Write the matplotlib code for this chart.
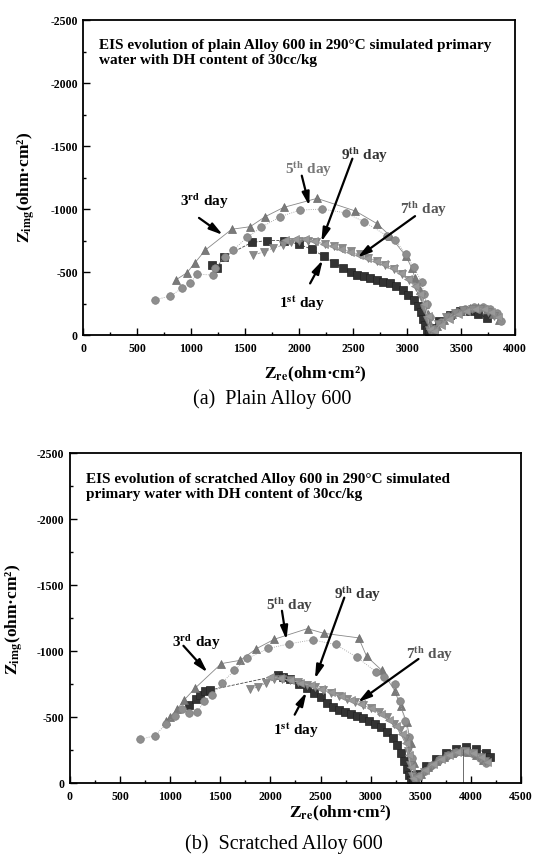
import numpy as np
import matplotlib.pyplot as plt
from matplotlib.ticker import MultipleLocator

plt.rcParams['font.family'] = ['Liberation Serif', 'DejaVu Serif']
plt.rcParams['mathtext.fontset'] = 'stix'
plt.rcParams['axes.unicode_minus'] = False

# ---------------- (a) plain Alloy 600 : Z_re and -Z_img (ohm cm2) ----------------
a_day1_re = [1190, 1240, 1300, 1560, 1700, 1860, 2000, 2120, 2230, 2320, 2410, 2480, 2540, 2600,
             2660, 2720, 2780, 2840, 2900, 2960, 3010, 3060, 3100, 3130, 3150, 3170, 3185, 3200,
             3250, 3300, 3400, 3490, 3580, 3660, 3740]
a_day1_im = [560, 535, 620, 735, 750, 750, 720, 680, 625, 575, 530, 500, 480, 465,
             450, 440, 425, 410, 390, 360, 320, 280, 230, 180, 130, 80, 40, 10,
             60, 110, 160, 190, 195, 170, 135]

a_day3_re = [860, 960, 1030, 1130, 1375, 1545, 1685, 1855, 2165, 2520, 2720, 2840, 2990, 3045,
             3075, 3120, 3165, 3195, 3215, 3235, 3280, 3340, 3420, 3500, 3580, 3660, 3740, 3800, 3850]
a_day3_im = [440, 495, 570, 675, 840, 860, 940, 1013, 1085, 985, 885, 790, 625, 530,
             450, 360, 250, 170, 90, 20, 70, 120, 165, 195, 215, 220, 205, 170, 120]

a_day5_re = [665, 805, 910, 990, 1050, 1205, 1220, 1310, 1390, 1515, 1650, 1825, 2010, 2215,
             2430, 2600, 2810, 2890, 2990, 3060, 3135, 3155, 3185, 3210, 3235, 3260, 3310, 3380,
             3460, 3540, 3620, 3700, 3770, 3830, 3870]
a_day5_im = [280, 310, 370, 410, 485, 475, 530, 620, 675, 775, 855, 940, 992, 1000,
             970, 900, 790, 755, 640, 540, 425, 330, 250, 140, 30, 50, 100, 150,
             185, 210, 225, 225, 210, 175, 110]

a_day7_re = [1870, 1960, 2050, 2140, 2230, 2310, 2390, 2470, 2550, 2630, 2710, 2790, 2870, 2940,
             3010, 3070, 3120, 3160, 3190, 3210, 3250, 3310, 3390, 3470, 3550, 3630, 3710, 3780, 3840]
a_day7_im = [755, 760, 760, 745, 725, 705, 685, 660, 635, 610, 590, 565, 530, 490,
             445, 390, 330, 250, 150, 50, 30, 80, 130, 170, 195, 210, 205, 180, 140]

a_day9_re = [1575, 1670, 1760, 1850, 1920, 2000, 2080, 2160, 2240, 2320, 2400, 2480, 2560, 2640,
             2720, 2800, 2880, 2950, 3020, 3080, 3130, 3160, 3185, 3205, 3240, 3290, 3360, 3440,
             3520, 3600, 3680, 3750, 3810]
a_day9_im = [635, 660, 690, 715, 735, 745, 745, 735, 720, 705, 690, 665, 640, 615,
             590, 560, 525, 485, 440, 380, 300, 210, 120, 40, 40, 90, 140, 175,
             200, 210, 205, 185, 150]

# ---------------- (b) scratched Alloy 600 ----------------
b_day1_re = [1190, 1260, 1300, 1350, 1400, 2080, 2130, 2200, 2290, 2360, 2430, 2500, 2560, 2620,
             2680, 2740, 2800, 2860, 2920, 2980, 3040, 3100, 3160, 3220, 3260, 3300, 3330, 3360,
             3380, 3400, 3420, 3470, 3550, 3650, 3750, 3850, 3950, 4050, 4150, 4190]
b_day1_im = [590, 640, 670, 700, 705, 815, 805, 785, 750, 720, 685, 650, 610, 575,
             550, 535, 520, 505, 490, 470, 450, 425, 390, 340, 290, 230, 170, 110,
             60, 20, 10, 70, 130, 180, 230, 260, 270, 260, 230, 200]

b_day3_re = [960, 1000, 1070, 1140, 1250, 1510, 1700, 1860, 2040, 2370, 2530, 2880, 2960, 3110,
             3240, 3300, 3360, 3400, 3430, 3450, 3500, 3570, 3650, 3730, 3810, 3890, 3970, 4050, 4120]
b_day3_im = [470, 500, 560, 630, 720, 905, 930, 1018, 1090, 1170, 1135, 1100, 960, 855,
             700, 580, 460, 300, 150, 30, 70, 120, 165, 200, 225, 240, 235, 210, 175]

b_day5_re = [700, 850, 960, 1050, 1120, 1190, 1270, 1340, 1420, 1520, 1640, 1770, 1980, 2190,
             2420, 2650, 2860, 3050, 3130, 3240, 3290, 3340, 3380, 3410, 3440, 3480, 3540, 3610,
             3690, 3770, 3850, 3930, 4010, 4090, 4150]
b_day5_im = [330, 360, 450, 510, 560, 530, 540, 620, 665, 760, 855, 945, 1020, 1055,
             1085, 1050, 955, 845, 800, 750, 620, 470, 350, 190, 30, 50, 95, 140,
             180, 215, 235, 240, 225, 190, 150]

b_day7_re = [2000, 2100, 2200, 2300, 2400, 2500, 2600, 2700, 2800, 2900, 3000, 3100, 3180, 3250,
             3310, 3350, 3380, 3400, 3420, 3470, 3540, 3620, 3700, 3780, 3860, 3940, 4020, 4100, 4160]
b_day7_im = [800, 795, 780, 760, 740, 715, 690, 660, 630, 600, 565, 525, 480, 430,
             370, 300, 210, 120, 40, 55, 100, 145, 185, 215, 235, 245, 230, 195, 160]

b_day9_re = [1800, 1880, 1960, 2040, 2120, 2200, 2280, 2360, 2440, 2520, 2600, 2680, 2760, 2840,
             2920, 3000, 3080, 3160, 3230, 3290, 3340, 3370, 3390, 3410, 3460, 3530, 3610, 3690,
             3770, 3850, 3930, 4010, 4080, 4140]
b_day9_im = [710, 730, 760, 785, 790, 780, 765, 745, 725, 705, 685, 660, 640, 615,
             590, 565, 540, 500, 450, 400, 330, 240, 140, 50, 40, 85, 130, 170,
             205, 230, 240, 230, 200, 165]

b_drop_re = [3925]
b_drop_im = [255]

# day labels: text, text position, arrow tail, arrow tip, colour
a_notes = [("3$^{\\mathbf{rd}}$ day", (1120, 1063), (1071, 930), (1292, 795), 'black'),
           ("5$^{\\mathbf{th}}$ day", (2085, 1315), (2024, 1265), (2094, 1025), '#777777'),
           ("9$^{\\mathbf{th}}$ day", (2610, 1428), (2493, 1400), (2205, 740), '#333333'),
           ("7$^{\\mathbf{th}}$ day", (3150, 998), (3074, 944), (2540, 615), '#555555'),
           ("1$^{\\mathbf{st}}$ day", (2023, 256), (2101, 410), (2218, 595), 'black')]
b_notes = [("3$^{\\mathbf{rd}}$ day", (1256, 1068), (1132, 1040), (1372, 838), 'black'),
           ("5$^{\\mathbf{th}}$ day", (2190, 1350), (2115, 1305), (2160, 1085), '#444444'),
           ("9$^{\\mathbf{th}}$ day", (2872, 1430), (2737, 1405), (2444, 790), '#333333'),
           ("7$^{\\mathbf{th}}$ day", (3590, 975), (3477, 940), (2872, 612), '#555555'),
           ("1$^{\\mathbf{st}}$ day", (2250, 404), (2242, 518), (2360, 688), 'black')]

styles = {
    'day1': dict(marker='s', mfc='#333333', mec='#222222', ls='--', color='#444444'),
    'day3': dict(marker='^', mfc='#7a7a7a', mec='#6a6a6a', ls='-', color='#888888'),
    'day5': dict(marker='o', mfc='#8e8e8e', mec='#808080', ls=':', color='#999999'),
    'day7': dict(marker='<', mfc='#999999', mec='#888888', ls='-', color='#aaaaaa'),
    'day9': dict(marker='v', mfc='#8a8a8a', mec='#7a7a7a', ls='--', color='#999999'),
}


def draw_panel(ax, series, xmax, note, notes):
    for key, (re, im) in series.items():
        ax.plot(re, -np.array(im), ms=5.5, lw=0.6, mew=0.5, **styles[key])
    for text, txy, tail, tip, col in notes:
        ax.annotate('', xy=(tip[0], -tip[1]), xytext=(tail[0], -tail[1]),
                    arrowprops=dict(arrowstyle='-|>,head_length=0.8,head_width=0.22',
                                    lw=1.6, color='black', shrinkA=0, shrinkB=0))
        ax.text(txy[0], -txy[1], text, fontsize=11, fontweight='bold', color=col,
                ha='center', va='center')
    ax.text(0.035, 0.94, note, transform=ax.transAxes, fontsize=11, fontweight='bold',
            ha='left', va='top', linespacing=1.2)
    ax.set_xlim(0, xmax)
    ax.set_ylim(0, -2500)
    ax.xaxis.set_major_locator(MultipleLocator(500))
    ax.xaxis.set_minor_locator(MultipleLocator(250))
    ax.yaxis.set_major_locator(MultipleLocator(500))
    ax.yaxis.set_minor_locator(MultipleLocator(250))
    ax.tick_params(which='both', direction='in', top=False, right=False, width=1.0)
    ax.tick_params(which='major', length=5)
    ax.tick_params(which='minor', length=2.5)
    ax.tick_params(axis='x', pad=6, labelsize=8.5)
    ax.tick_params(axis='y', pad=4, labelsize=8.5)
    for lab in ax.get_xticklabels() + ax.get_yticklabels():
        lab.set_fontweight('bold')
    for sp in ax.spines.values():
        sp.set_linewidth(1.3)


fig = plt.figure(figsize=(5.35, 8.57), dpi=100)

ax1 = fig.add_axes([0.156, 0.609, 0.8065, 0.3676])
draw_panel(ax1,
           {'day1': (a_day1_re, a_day1_im), 'day3': (a_day3_re, a_day3_im),
            'day5': (a_day5_re, a_day5_im), 'day9': (a_day9_re, a_day9_im),
            'day7': (a_day7_re, a_day7_im)},
           4000,
           "EIS evolution of plain Alloy 600 in 290°C simulated primary\n"
           "water with DH content of 30cc/kg",
           a_notes)
ax1.text(0.537, -0.125, "$\\mathbf{Z}_{\\mathbf{re}}$(ohm·cm²)", transform=ax1.transAxes,
         fontsize=12.5, fontweight='bold', ha='center', va='center')
ax1.text(-0.132, 0.47, "$\\mathbf{Z}_{\\mathbf{img}}$(ohm·cm²)", transform=ax1.transAxes,
         fontsize=12.5, fontweight='bold', ha='center', va='center', rotation=90)
fig.text(0.508, 0.5344, "(a)  Plain Alloy 600", fontsize=14.5, ha='center', va='center')

ax2 = fig.add_axes([0.1308, 0.0863, 0.843, 0.385])
draw_panel(ax2,
           {'day1': (b_day1_re, b_day1_im), 'day3': (b_day3_re, b_day3_im),
            'day5': (b_day5_re, b_day5_im), 'day9': (b_day9_re, b_day9_im),
            'day7': (b_day7_re, b_day7_im)},
           4500,
           "EIS evolution of scratched Alloy 600 in 290°C simulated\n"
           "primary water with DH content of 30cc/kg",
           b_notes)
ax2.vlines(b_drop_re, 0, -np.array(b_drop_im), color='#555555', lw=0.6)
ax2.text(0.599, -0.092, "$\\mathbf{Z}_{\\mathbf{re}}$(ohm·cm²)", transform=ax2.transAxes,
         fontsize=12.5, fontweight='bold', ha='center', va='center')
ax2.text(-0.122, 0.495, "$\\mathbf{Z}_{\\mathbf{img}}$(ohm·cm²)", transform=ax2.transAxes,
         fontsize=12.5, fontweight='bold', ha='center', va='center', rotation=90)
fig.text(0.531, 0.0155, "(b)  Scratched Alloy 600", fontsize=14.5, ha='center', va='center')

fig.savefig('out.png', dpi=100)
